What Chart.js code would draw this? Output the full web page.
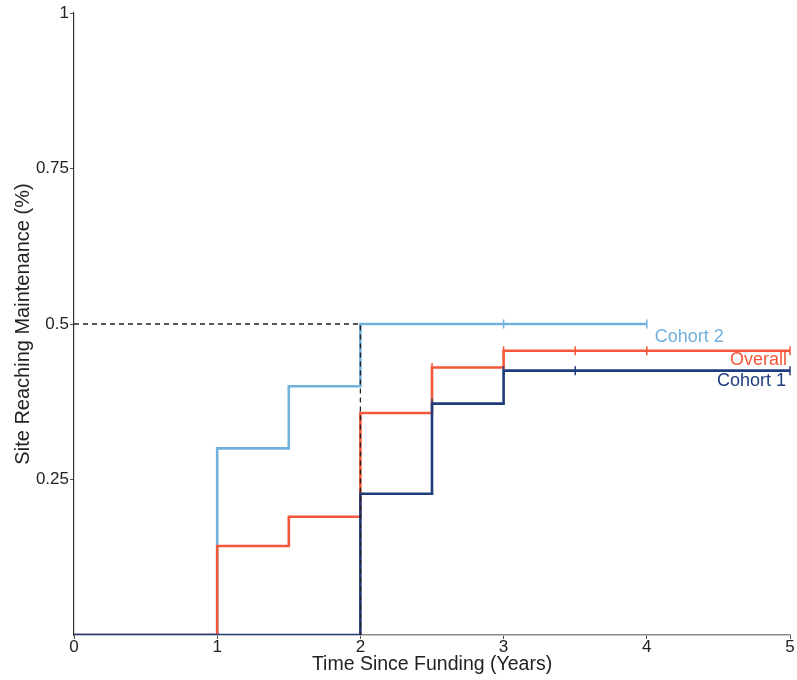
<!DOCTYPE html>
<html>
<head>
<meta charset="utf-8">
<script src="https://cdn.jsdelivr.net/npm/chart.js@4"></script>
<style>
  body { margin: 0; background: #fff; }
  #wrap { width: 797px; height: 680px; position: relative; }
</style>
</head>
<body>
<div id="wrap"><canvas id="grafica"></canvas></div>
<script>
// step points: time (years) and value reached at that time
const overallTimes  = [0, 1, 1.5, 2, 2.5, 3, 5];
const overallValues = [0, 0.143, 0.19, 0.357, 0.43, 0.457, 0.457];
const cohort1Times  = [0, 2, 2.5, 3, 5];
const cohort1Values = [0, 0.227, 0.372, 0.425, 0.425];
const cohort2Times  = [0, 1, 1.5, 2, 4];
const cohort2Values = [0, 0.3, 0.4, 0.5, 0.5];

// censored observations (tick marks)
const overallCensor = [2.5, 3, 3.5, 4, 5];
const cohort1Censor = [2.5, 3, 3.5, 5];
const cohort2Censor = [3, 4];

// median reference line
const medianTimes  = [0, 2, 2];
const medianValues = [0.5, 0.5, 0];

const xTicks = [0, 1, 2, 3, 4, 5];
const yTicks = [0.25, 0.5, 0.75, 1];

const colOverall = "#f4563a";
const colCohort1 = "#1f3d7c";
const colCohort2 = "#72b1de";

Chart.defaults.font.family = "'Liberation Sans', Arial, sans-serif";

const puntos = (xs, ys) => xs.map((x, i) => ({ x: x, y: ys[i] }));

const valorEn = (xs, ys, t) => {
    let v = ys[0];
    xs.forEach((x, i) => { if (x <= t) v = ys[i]; });
    return v;
};

const censura = (cs, xs, ys) => cs.map(t => ({ x: t, y: valorEn(xs, ys, t) }));

const curva = (label, data, color) => ({
    label: label,
    data: data,
    showLine: true,
    stepped: "before",
    borderColor: color,
    borderWidth: 2.6,
    pointRadius: 0,
    fill: false
});

const marcas = (label, data, color) => ({
    label: label,
    data: data,
    showLine: false,
    pointStyle: "line",
    rotation: 90,
    pointRadius: 4.5,
    borderColor: color,
    backgroundColor: color,
    pointBorderWidth: 1.5,
    clip: false
});

const etiquetas = {
    id: "etiquetas",
    afterDatasetsDraw(chart) {
        const { ctx, scales: { x, y } } = chart;
        ctx.save();
        ctx.font = "18px 'Liberation Sans', Arial, sans-serif";
        ctx.textBaseline = "middle";

        const endC2 = cohort2Times[cohort2Times.length - 1];
        ctx.fillStyle = colCohort2;
        ctx.textAlign = "left";
        ctx.fillText("Cohort 2", x.getPixelForValue(endC2) + 8,
            y.getPixelForValue(cohort2Values[cohort2Values.length - 1]) + 13);

        const endO = overallTimes[overallTimes.length - 1];
        ctx.fillStyle = colOverall;
        ctx.textAlign = "right";
        ctx.fillText("Overall", x.getPixelForValue(endO) - 3,
            y.getPixelForValue(overallValues[overallValues.length - 1]) + 9);

        const endC1 = cohort1Times[cohort1Times.length - 1];
        ctx.fillStyle = colCohort1;
        ctx.fillText("Cohort 1", x.getPixelForValue(endC1) - 4,
            y.getPixelForValue(cohort1Values[cohort1Values.length - 1]) + 10);
        ctx.restore();
    }
};

const ctx = document.getElementById("grafica").getContext("2d");

new Chart(ctx, {
    type: "scatter",
    data: {
        datasets: [
            {
                label: "Median",
                data: puntos(medianTimes, medianValues),
                showLine: true,
                borderColor: "#222",
                borderWidth: 1.3,
                borderDash: [5, 4],
                pointRadius: 0,
                fill: false
            },
            marcas("Cohort 1 censor", censura(cohort1Censor, cohort1Times, cohort1Values), colCohort1),
            marcas("Overall censor", censura(overallCensor, overallTimes, overallValues), colOverall),
            marcas("Cohort 2 censor", censura(cohort2Censor, cohort2Times, cohort2Values), colCohort2),
            curva("Cohort 1", puntos(cohort1Times, cohort1Values), colCohort1),
            curva("Overall", puntos(overallTimes, overallValues), colOverall),
            curva("Cohort 2", puntos(cohort2Times, cohort2Values), colCohort2)
        ]
    },
    options: {
        responsive: true,
        maintainAspectRatio: false,
        animation: false,
        layout: { padding: { left: 0, top: 13, right: 7, bottom: 0 } },
        plugins: {
            legend: { display: false },
            tooltip: { enabled: false }
        },
        scales: {
            x: {
                type: "linear",
                min: 0,
                max: 5,
                afterBuildTicks: s => { s.ticks = xTicks.map(v => ({ value: v })); },
                afterFit: s => { s.height = 45; },
                ticks: {
                    font: { size: 17 },
                    color: "#222",
                    padding: -2,
                    maxRotation: 0,
                    callback: v => String(v)
                },
                grid: { drawOnChartArea: false, drawTicks: true, tickLength: 4, color: "#555" },
                border: { color: "#8a8a8a", width: 1.5 },
                title: {
                    display: true,
                    text: "Time Since Funding (Years)",
                    font: { size: 19.5 },
                    color: "#222",
                    padding: { top: 0, bottom: 4 }
                }
            },
            y: {
                type: "linear",
                min: 0,
                max: 1,
                afterBuildTicks: s => { s.ticks = yTicks.map(v => ({ value: v })); },
                afterFit: s => { s.width = 74; },
                ticks: {
                    font: { size: 17 },
                    color: "#222",
                    padding: 1,
                    callback: v => String(v)
                },
                grid: { drawOnChartArea: false, drawTicks: true, tickLength: 4, color: "#555" },
                border: { color: "#333", width: 1.2 },
                title: {
                    display: true,
                    text: "Site Reaching Maintenance (%)",
                    font: { size: 20 },
                    color: "#222",
                    padding: { top: 11, bottom: 0 }
                }
            }
        }
    },
    plugins: [etiquetas]
});
</script>
</body>
</html>
